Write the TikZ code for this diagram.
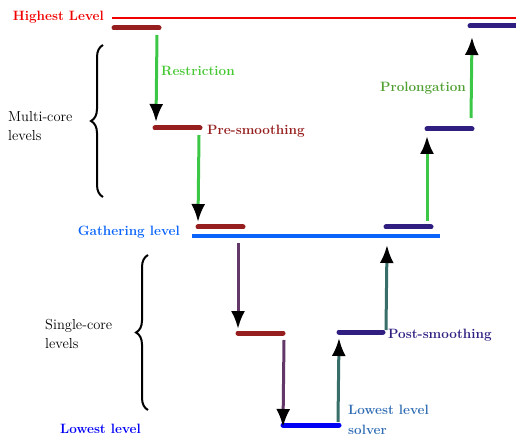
\documentclass[tikz,border=0pt]{standalone}
\usetikzlibrary{arrows.meta,decorations.pathreplacing}
\definecolor{bardred}{RGB}{150,30,30}
\definecolor{barpurp}{RGB}{48,30,128}
\definecolor{gathblue}{RGB}{10,100,250}
\definecolor{lowblue}{RGB}{0,0,245}
\definecolor{brgreen}{RGB}{60,200,70}
\definecolor{prolgreen}{RGB}{80,160,50}
\definecolor{restgreen}{RGB}{70,200,50}
\definecolor{arrpurp}{RGB}{100,55,105}
\definecolor{teal}{RGB}{55,110,105}
\definecolor{solvblue}{RGB}{50,110,180}
\definecolor{hired}{RGB}{240,0,0}
\tikzset{
  bar/.style={line width=5pt, line cap=round},
  flow/.style={line width=3pt, -{Latex[length=18pt,width=14pt,black]}},
  lbl/.style={inner sep=0pt, font=\fontsize{13.5}{17}\selectfont\bfseries},
  side/.style={inner sep=0pt, align=left, font=\fontsize{14.5}{19}\selectfont},
  brc/.style={line width=2pt, decorate, decoration={brace, amplitude=12pt}}
}
\begin{document}
\begin{tikzpicture}[x=1pt,y=-1pt]
\useasboundingbox (0,0) rectangle (516,438);
% level lines
\coordinate (hiL) at (112,18); \coordinate (hiR) at (516,18);
\draw[hired, line width=2.5pt] (hiL) -- (hiR);
\coordinate (gaL) at (192,236); \coordinate (gaR) at (440,236);
\draw[gathblue, line width=3.5pt] (gaL) -- (gaR);
% bars
\coordinate (b1L) at (114,28); \coordinate (b1R) at (159,28);
\coordinate (b2L) at (155,128); \coordinate (b2R) at (200,128);
\coordinate (b3L) at (198,227); \coordinate (b3R) at (243,227);
\coordinate (b4L) at (238,333); \coordinate (b4R) at (283,333);
\coordinate (b5L) at (283,425); \coordinate (b5R) at (339,425);
\coordinate (b6L) at (339,332); \coordinate (b6R) at (383,332);
\coordinate (b7L) at (386,227); \coordinate (b7R) at (431,227);
\coordinate (b8L) at (427,129); \coordinate (b8R) at (472,129);
\coordinate (b9L) at (470,26); \coordinate (b9R) at (520,26);
\foreach \i in {1,2,3,4} \draw[bar,bardred] (b\i L) -- (b\i R);
\draw[bar,lowblue] (b5L) -- (b5R);
\foreach \i in {6,7,8,9} \draw[bar,barpurp] (b\i L) -- (b\i R);
% arrows
\coordinate (a1s) at (157,35); \coordinate (a1e) at (156,122);
\coordinate (a2s) at (199,135); \coordinate (a2e) at (198,222);
\coordinate (a3s) at (238,243); \coordinate (a3e) at (238,329);
\coordinate (a4s) at (284,340); \coordinate (a4e) at (283,427);
\coordinate (a5s) at (338,422); \coordinate (a5e) at (339,338);
\coordinate (a6s) at (386,330); \coordinate (a6e) at (387,245);
\coordinate (a7s) at (427,221); \coordinate (a7e) at (427,136);
\coordinate (a8s) at (471,118); \coordinate (a8e) at (472,37);
\draw[flow,brgreen] (a1s) -- (a1e);
\draw[flow,brgreen] (a2s) -- (a2e);
\draw[flow,arrpurp] (a3s) -- (a3e);
\draw[flow,arrpurp] (a4s) -- (a4e);
\draw[flow,teal] (a5s) -- (a5e);
\draw[flow,teal] (a6s) -- (a6e);
\draw[flow,brgreen] (a7s) -- (a7e);
\draw[flow,brgreen] (a8s) -- (a8e);
% labels
\node[lbl,hired,anchor=east] (thi) at (104,17) {Highest Level};
\node[lbl,restgreen,anchor=west] (trest) at (161,71) {Restriction};
\node[lbl,bardred,anchor=west] (tpre) at (207,131) {Pre-smoothing};
\node[lbl,gathblue,anchor=east] (tgat) at (180,232) {Gathering level};
\node[lbl,barpurp,anchor=west] (tpost) at (388,335) {Post-smoothing};
\node[lbl,prolgreen,anchor=east] (tprol) at (466,88) {Prolongation};
\node[lbl,lowblue,anchor=west] (tlow) at (60,429) {Lowest level};
\node[lbl,solvblue,anchor=north west,align=left,font=\fontsize{13.5}{20}\selectfont\bfseries] (tsolv) at (348,405) {Lowest level\\solver};
\node[side,anchor=west] (tmulti) at (8,126) {Multi-core\\levels};
\node[side,anchor=west] (tsingle) at (45,334) {Single-core\\levels};
% braces
\coordinate (m1) at (103,197); \coordinate (m2) at (103,45);
\draw[brc] (m1) -- (m2);
\coordinate (s1) at (148,410); \coordinate (s2) at (148,255);
\draw[brc] (s1) -- (s2);
\end{tikzpicture}
\end{document}
